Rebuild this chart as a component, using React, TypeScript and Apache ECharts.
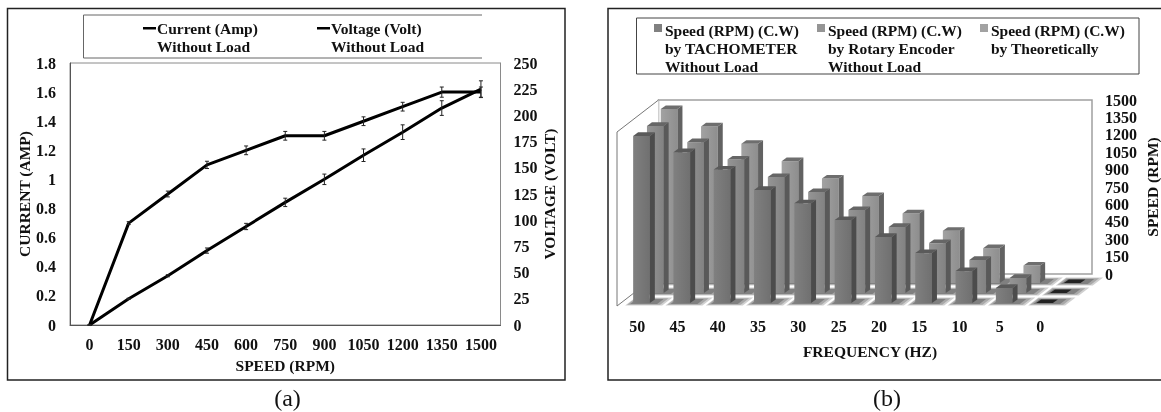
import React, { useEffect, useRef } from "react";
import * as echarts from "echarts";

const speeds = ["0", "150", "300", "450", "600", "750", "900", "1050", "1200", "1350", "1500"];
const currentValues = [0, 0.7, 0.9, 1.1, 1.2, 1.3, 1.3, 1.4, 1.5, 1.6, 1.6];
const currentErrors = [0, 0.01, 0.02, 0.025, 0.03, 0.03, 0.03, 0.03, 0.03, 0.035, 0.035];
const voltageValues = [0, 25, 47, 71, 94, 117, 139, 162, 184, 207, 225];
const voltageErrors = [0, 0.5, 1, 2.5, 3, 4, 5, 6, 7, 7, 8];

const frequencies = ["50", "45", "40", "35", "30", "25", "20", "15", "10", "5", "0"];
const tachometer = [1440, 1300, 1150, 975, 860, 715, 570, 430, 275, 130, 0];
const encoder = [1440, 1300, 1150, 1000, 870, 715, 570, 430, 285, 130, 0];
const theoretical = [1500, 1350, 1200, 1050, 900, 750, 600, 450, 300, 150, 0];

const FONT = "Liberation Serif";
const bold = { fontFamily: FONT, fontWeight: "bold" as const, fontSize: 15.5, color: "#111" };
const tick = { ...bold, fontSize: 16 };
const SLOT_DX = 13.8;
const SLOT_DY = 10;

const errorBars = (values: number[], errors: number[], yAxisIndex: number, color: string) => ({
  type: "custom",
  xAxisIndex: 0,
  yAxisIndex,
  silent: true,
  z: 5,
  data: values.map((v, i) => [i, v, errors[i]]),
  renderItem: (_: any, api: any) => {
    const i = api.value(0), v = api.value(1), e = api.value(2);
    const hi = api.coord([i, v + e]);
    const lo = api.coord([i, v - e]);
    const st = { stroke: color, lineWidth: 1, fill: "none" };
    return {
      type: "group",
      children: [
        { type: "line", shape: { x1: hi[0], y1: hi[1], x2: lo[0], y2: lo[1] }, style: st },
        { type: "line", shape: { x1: hi[0] - 2, y1: hi[1], x2: hi[0] + 2, y2: hi[1] }, style: st },
        { type: "line", shape: { x1: lo[0] - 2, y1: lo[1], x2: lo[0] + 2, y2: lo[1] }, style: st },
      ],
    };
  },
});

const bar3d = (name: string, values: number[], slot: number, f: [string, string], side: string, top: string) => ({
  type: "custom",
  name,
  xAxisIndex: 1,
  yAxisIndex: 2,
  silent: true,
  itemStyle: { color: f[0] },
  data: values.map((v, i) => [i, v]),
  renderItem: (_: any, api: any) => {
    const p0 = api.coord([api.value(0), 0]);
    const p1 = api.coord([api.value(0), api.value(1)]);
    const l = p0[0] - 4 + slot * SLOT_DX;
    const r = l + 16.7;
    const dx = 5, dy = 3.6;
    const b = p0[1] - 3 - slot * SLOT_DY;
    const t = p1[1] - 3 - slot * SLOT_DY;
    const zero = api.value(1) === 0;
    const children: any[] = [];
    if (!zero) {
      children.push({
        type: "rect",
        shape: { x: l, y: t, width: r - l, height: b - t },
        style: { fill: new echarts.graphic.LinearGradient(0, 0, 1, 0, [{ offset: 0, color: f[0] }, { offset: 1, color: f[1] }]) },
      });
      children.push({
        type: "polygon",
        shape: { points: [[r, t], [r + dx, t - dy], [r + dx, b - dy], [r, b]] },
        style: { fill: side },
      });
    }
    children.push({
      type: "polygon",
      shape: { points: [[l, t], [l + dx, t - dy], [r + dx, t - dy], [r, t]] },
      style: { fill: zero ? "#222" : top },
    });
    return { type: "group", children };
  },
});

const floorTiles = {
  type: "custom",
  xAxisIndex: 1,
  yAxisIndex: 2,
  silent: true,
  data: frequencies.flatMap((_, i) => [0, 1, 2].map((s) => [i, s])),
  renderItem: (_: any, api: any) => {
    const p0 = api.coord([api.value(0), 0]);
    const s = api.value(1);
    const tile = (pad: number, padY: number, fill: string) => {
      const l = p0[0] - 12 + pad + s * SLOT_DX;
      const r = p0[0] + 25 - pad + s * SLOT_DX;
      const b = p0[1] - 0.5 - padY - s * SLOT_DY;
      const t = p0[1] - 8.5 + padY - s * SLOT_DY;
      const sh = 1.3 * (b - t);
      return {
        type: "polygon",
        shape: { points: [[l, b], [l + sh, t], [r + sh, t], [r, b]] },
        style: { fill },
      };
    };
    return {
      type: "group",
      children: [tile(0, 0, "#d0d0d0"), tile(2, 0.8, "#a8a8a8"), tile(5, 1.5, "#808080")],
    };
  },
};

const wallFrame = {
  type: "custom",
  xAxisIndex: 2,
  yAxisIndex: 3,
  silent: true,
  data: [[0, 0]],
  renderItem: (params: any) => {
    const x0 = params.coordSys.x, y0 = params.coordSys.y;
    const w = params.coordSys.width, h = params.coordSys.height;
    const st = { stroke: "#a0a0a0", lineWidth: 1.5, fill: "none" };
    const sideSt = { stroke: "#777", lineWidth: 1, fill: "#fff" };
    return {
      type: "group",
      children: [
        { type: "polyline", shape: { points: [[x0, y0 + h], [x0, y0], [x0 + w, y0], [x0 + w, y0 + h], [x0 - 41.5, y0 + h]] }, style: st },
        { type: "polyline", shape: { points: [[x0, y0], [x0 - 41.5, y0 + 32], [x0 - 41.5, y0 + h + 32], [x0, y0 + h]] }, style: sideSt },
      ],
    };
  },
};

const lineIcon = "path://M0,0H0.01V0.01H0ZM0,8H13V10.6H0ZM0,36H0.01V36.01H0Z";
const squareIcon = "path://M0,0H0.01V0.01H0ZM0,3H8V11H0ZM0,54H0.01V54.01H0Z";

const lineLegend = (name: string, left: number) => ({
  left,
  top: 19,
  data: [name],
  icon: lineIcon,
  itemWidth: 13,
  itemHeight: 36,
  itemGap: 0,
  padding: 0,
  selectedMode: false,
  textStyle: { ...bold, lineHeight: 18, padding: [0, 0, 0, -4] },
});
const barLegend = (name: string, left: number) => ({
  left,
  top: 21,
  data: [name],
  icon: squareIcon,
  itemWidth: 8,
  itemHeight: 54,
  itemGap: 0,
  padding: 0,
  selectedMode: false,
  textStyle: { ...bold, lineHeight: 18, padding: [0, 0, 0, -2] },
});

const CURRENT = "Current (Amp)\nWithout Load";
const VOLTAGE = "Voltage (Volt)\nWithout Load";
const TACH = "Speed (RPM) (C.W)\nby TACHOMETER\nWithout Load";
const ENC = "Speed (RPM) (C.W)\nby Rotary Encoder\nWithout Load";
const THEO = "Speed (RPM) (C.W)\nby Theoretically\n ";

const noLine = { show: false };
const plain = (v: number) => String(v);

const option: any = {
  animation: false,
  backgroundColor: "#fff",
  legend: [
    lineLegend(CURRENT, 143),
    lineLegend(VOLTAGE, 317),
    barLegend(TACH, 654),
    barLegend(ENC, 817),
    barLegend(THEO, 980),
  ],
  grid: [
    { left: 70, top: 63, width: 430.5, height: 262, show: true, borderColor: "#8a8a8a", borderWidth: 1 },
    { left: 617, top: 132, width: 443.3, height: 174 },
    { left: 658.5, top: 100, width: 443.6, height: 174 },
  ],
  xAxis: [
    {
      gridIndex: 0,
      type: "category",
      data: speeds,
      axisTick: noLine,
      axisLine: { lineStyle: { color: "#555", width: 1 } },
      axisLabel: { ...tick, interval: 0, margin: 11 },
      name: "SPEED (RPM)",
      nameLocation: "middle",
      nameGap: 32,
      nameTextStyle: bold,
    },
    {
      gridIndex: 1,
      type: "category",
      data: frequencies,
      axisTick: noLine,
      axisLine: noLine,
      axisLabel: { ...tick, interval: 0, margin: 12 },
    },
    { gridIndex: 2, type: "category", data: frequencies, show: false },
  ],
  yAxis: [
    {
      gridIndex: 0,
      type: "value",
      min: 0,
      max: 1.8,
      interval: 0.2,
      splitLine: noLine,
      axisTick: noLine,
      axisLine: { show: true, lineStyle: { color: "#555" } },
      axisLabel: { ...tick, margin: 14 },
      name: "CURRENT (AMP)",
      nameLocation: "middle",
      nameGap: 38,
      nameRotate: 90,
      nameTextStyle: bold,
    },
    {
      gridIndex: 0,
      type: "value",
      position: "right",
      min: 0,
      max: 250,
      interval: 25,
      splitLine: noLine,
      axisTick: noLine,
      axisLine: { show: true, lineStyle: { color: "#8a8a8a" } },
      axisLabel: { ...tick, margin: 13 },
      name: "VOLTAGE (VOLT)",
      nameLocation: "middle",
      nameGap: 41,
      nameRotate: 90,
      nameTextStyle: bold,
    },
    { gridIndex: 1, type: "value", min: 0, max: 1500, interval: 150, show: false },
    {
      gridIndex: 2,
      type: "value",
      position: "right",
      min: 0,
      max: 1500,
      interval: 150,
      splitLine: noLine,
      axisTick: noLine,
      axisLine: noLine,
      axisLabel: { ...tick, margin: 13, formatter: plain },
      name: "SPEED (RPM)",
      nameLocation: "middle",
      nameGap: 52,
      nameRotate: 90,
      nameTextStyle: bold,
    },
  ],
  series: [
    { type: "line", name: CURRENT, xAxisIndex: 0, yAxisIndex: 0, data: currentValues, symbol: "none", lineStyle: { color: "#000", width: 3 }, itemStyle: { color: "#000" }, z: 4 },
    { type: "line", name: VOLTAGE, xAxisIndex: 0, yAxisIndex: 1, data: voltageValues, symbol: "none", lineStyle: { color: "#000", width: 3 }, itemStyle: { color: "#000" }, z: 4 },
    errorBars(currentValues, currentErrors, 0, "#222"),
    errorBars(voltageValues, voltageErrors, 1, "#222"),
    wallFrame,
    floorTiles,
    bar3d(THEO, theoretical, 2, ["#a2a2a2", "#8e8e8e"], "#626262", "#6e6e6e"),
    bar3d(ENC, encoder, 1, ["#959595", "#828282"], "#595959", "#666666"),
    bar3d(TACH, tachometer, 0, ["#808080", "#707070"], "#4c4c4c", "#5a5a5a"),
  ],
  graphic: [
    { type: "rect", shape: { x: 7.5, y: 8.5, width: 557.5, height: 371.5 }, style: { fill: "none", stroke: "#222", lineWidth: 1.5 }, silent: true },
    { type: "polyline", shape: { points: [[482, 15], [83.5, 15], [83.5, 58], [482, 58]] }, style: { fill: "none", stroke: "#666", lineWidth: 1 }, silent: true },
    { type: "polyline", shape: { points: [[1161, 8.5], [608, 8.5], [608, 380], [1161, 380]] }, style: { fill: "none", stroke: "#222", lineWidth: 1.5 }, silent: true },
    { type: "rect", shape: { x: 636.5, y: 18, width: 502.5, height: 56 }, style: { fill: "none", stroke: "#444", lineWidth: 1 }, silent: true },
    { type: "text", x: 870, y: 351, style: { text: "FREQUENCY (HZ)", fontFamily: FONT, fontWeight: "bold", fontSize: 15.5, fill: "#111", align: "center", verticalAlign: "middle" } },
    { type: "text", x: 287.5, y: 398, style: { text: "(a)", fontFamily: FONT, fontSize: 24, fill: "#111", align: "center", verticalAlign: "middle" } },
    { type: "text", x: 887, y: 398, style: { text: "(b)", fontFamily: FONT, fontSize: 24, fill: "#111", align: "center", verticalAlign: "middle" } },
  ],
};

export default function App() {
  const ref = useRef<HTMLDivElement>(null);
  useEffect(() => {
    const chart = echarts.init(ref.current!, undefined, { renderer: "svg" });
    chart.setOption(option);
    return () => chart.dispose();
  }, []);
  return (
    <div
      ref={ref}
      style={{ position: "absolute", left: 0, top: 0, width: 1161, height: 412, filter: "blur(0.35px)" }}
    />
  );
}
